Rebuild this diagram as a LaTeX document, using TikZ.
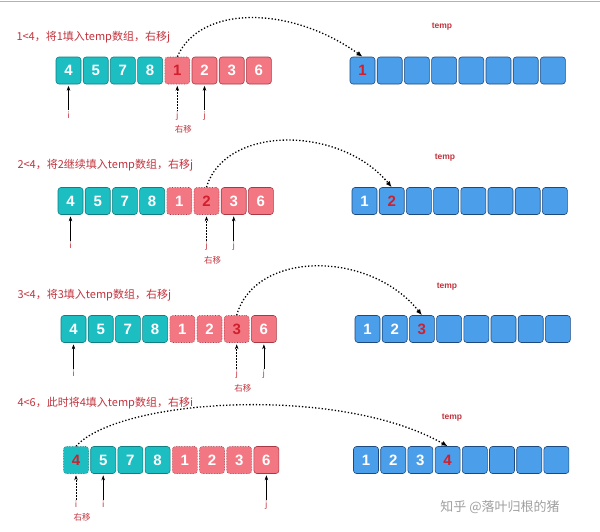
\documentclass[tikz,border=0pt]{standalone}
\usepackage{fontspec}
\setmainfont{Liberation Sans}
\newfontfamily\cjk{Noto Sans CJK SC}
\usetikzlibrary{positioning, arrows.meta}

\definecolor{tealFill}{HTML}{1CBEC2}
\definecolor{tealLine}{HTML}{0F7F83}
\definecolor{pinkFill}{HTML}{F27783}
\definecolor{pinkLine}{HTML}{A83944}
\definecolor{blueFill}{HTML}{4A9EEA}
\definecolor{blueLine}{HTML}{1D4A7E}
\definecolor{pickRed}{HTML}{D21F2C}
\definecolor{noteRed}{HTML}{C2333D}

\tikzset{
    cell/.style={draw, rounded corners=3pt, minimum width=25pt, minimum height=27pt,
        inner sep=0pt, line width=0.6pt, text=white,
        font=\bfseries\fontsize{15}{15}\selectfont},
    lft/.style={cell, fill=tealFill, draw=tealLine},
    rgt/.style={cell, fill=pinkFill, draw=pinkLine},
    tmp/.style={cell, fill=blueFill, draw=blueLine},
    lftpick/.style={lft, densely dotted, text=pickRed},
    rgtpick/.style={rgt, densely dotted, text=pickRed},
    rgtdone/.style={rgt, densely dotted},
    tmppick/.style={tmp, text=pickRed},
    title/.style={anchor=west, text=noteRed, font=\cjk\fontsize{11}{12}\selectfont},
    templabel/.style={text=noteRed, font=\bfseries\fontsize{8.5}{9}\selectfont},
    ptrlabel/.style={text=noteRed, font=\cjk\fontsize{8.5}{9}\selectfont, inner sep=1pt},
    ptr/.style={-{Stealth[length=5pt, width=3.5pt]}, line width=0.5pt, shorten >=1.5pt},
    oldptr/.style={ptr, densely dotted},
    copyarc/.style={dotted, line width=1.3pt, -{Latex[length=6pt, width=5pt]}},
}

\begin{document}
\begin{tikzpicture}[x=1pt, y=-1pt]
    \useasboundingbox (0,0) rectangle (600,531);
    \draw[gray!60, line width=1pt] (0,1) -- (600,1);

    \def\pitch{27.2}

    % Step 1
    \node[title] (s1title) at (13,37) {1<4，将1填入temp数组，右移j};
    \foreach \v/\s [count=\k] in {4/lft,5/lft,7/lft,8/lft,1/rgtpick,2/rgt,3/rgt,6/rgt}
        \node[\s] (s1a\k) at (68.5+\pitch*\k-\pitch,70.5) {\v};
    \foreach \v/\s [count=\k] in {1/tmppick,/tmp,/tmp,/tmp,/tmp,/tmp,/tmp,/tmp}
        \node[\s] (s1t\k) at (362.5+\pitch*\k-\pitch,70.5) {\v};
    \node[templabel] (s1temp) at (442,27) {temp};
    \node[ptrlabel, below=26pt of s1a1] (s1i) {i};
    \node[ptrlabel, below=26pt of s1a5] (s1jold) {j};
    \node[ptrlabel, below right=3pt and -6pt of s1jold] (s1move) {右移};
    \node[ptrlabel, below=26pt of s1a6] (s1j) {j};
    \draw[ptr] (s1i) -- (s1a1);
    \draw[oldptr] (s1jold) -- (s1a5);
    \draw[ptr] (s1j) -- (s1a6);
    \draw[copyarc] (s1a5.north) .. controls (200,5) and (290,5) .. (s1t1.north);

    % Step 2
    \node[title] (s2title) at (14,165) {2<4，将2继续填入temp数组，右移j};
    \foreach \v/\s [count=\k] in {4/lft,5/lft,7/lft,8/lft,1/rgtdone,2/rgtpick,3/rgt,6/rgt}
        \node[\s] (s2a\k) at (70.5+\pitch*\k-\pitch,201) {\v};
    \foreach \v/\s [count=\k] in {1/tmp,2/tmppick,/tmp,/tmp,/tmp,/tmp,/tmp,/tmp}
        \node[\s] (s2t\k) at (364.5+\pitch*\k-\pitch,201) {\v};
    \node[templabel] (s2temp) at (445,158) {temp};
    \node[ptrlabel, below=26pt of s2a1] (s2i) {i};
    \node[ptrlabel, below=26pt of s2a6] (s2jold) {j};
    \node[ptrlabel, below right=3pt and -6pt of s2jold] (s2move) {右移};
    \node[ptrlabel, below=26pt of s2a7] (s2j) {j};
    \draw[ptr] (s2i) -- (s2a1);
    \draw[oldptr] (s2jold) -- (s2a6);
    \draw[ptr] (s2j) -- (s2a7);
    \draw[copyarc] (s2a6.north) .. controls (225,125) and (340,125) .. (s2t2.north);

    % Step 3
    \node[title] (s3title) at (14,295) {3<4，将3填入temp数组，右移j};
    \foreach \v/\s [count=\k] in {4/lft,5/lft,7/lft,8/lft,1/rgtdone,2/rgtdone,3/rgtpick,6/rgt}
        \node[\s] (s3a\k) at (73.5+\pitch*\k-\pitch,329) {\v};
    \foreach \v/\s [count=\k] in {1/tmp,2/tmp,3/tmppick,/tmp,/tmp,/tmp,/tmp,/tmp}
        \node[\s] (s3t\k) at (367.5+\pitch*\k-\pitch,329) {\v};
    \node[templabel] (s3temp) at (447,287) {temp};
    \node[ptrlabel, below=26pt of s3a1] (s3i) {i};
    \node[ptrlabel, below=26pt of s3a7] (s3jold) {j};
    \node[ptrlabel, below right=3pt and -6pt of s3jold] (s3move) {右移};
    \node[ptrlabel, below=26pt of s3a8] (s3j) {j};
    \draw[ptr] (s3i) -- (s3a1);
    \draw[oldptr] (s3jold) -- (s3a7);
    \draw[ptr] (s3j) -- (s3a8);
    \draw[copyarc] (s3a7.north) .. controls (255,250) and (370,250) .. (s3t3.north);

    % Step 4
    \node[title] (s4title) at (14,403) {4<6，此时将4填入temp数组，右移i};
    \foreach \v/\s [count=\k] in {4/lftpick,5/lft,7/lft,8/lft,1/rgtdone,2/rgtdone,3/rgtdone,6/rgt}
        \node[\s] (s4a\k) at (76+\pitch*\k-\pitch,460) {\v};
    \foreach \v/\s [count=\k] in {1/tmp,2/tmp,3/tmp,4/tmppick,/tmp,/tmp,/tmp,/tmp}
        \node[\s] (s4t\k) at (366+\pitch*\k-\pitch,460) {\v};
    \node[templabel] (s4temp) at (452,418) {temp};
    \node[ptrlabel, below=26pt of s4a1] (s4iold) {i};
    \node[ptrlabel, below right=3pt and -6pt of s4iold] (s4move) {右移};
    \node[ptrlabel, below=26pt of s4a2] (s4i) {i};
    \node[ptrlabel, below=26pt of s4a8] (s4j) {j};
    \draw[oldptr] (s4iold) -- (s4a1);
    \draw[ptr] (s4i) -- (s4a2);
    \draw[ptr] (s4j) -- (s4a8);
    \draw[copyarc] (s4a1.north) .. controls (120,398) and (340,385) .. (s4t4.north);

    \node[text=gray!75, font=\cjk\fontsize{13}{14}\selectfont] (mark) at (500,507) {知乎 @落叶归根的猪};
\end{tikzpicture}
\end{document}
